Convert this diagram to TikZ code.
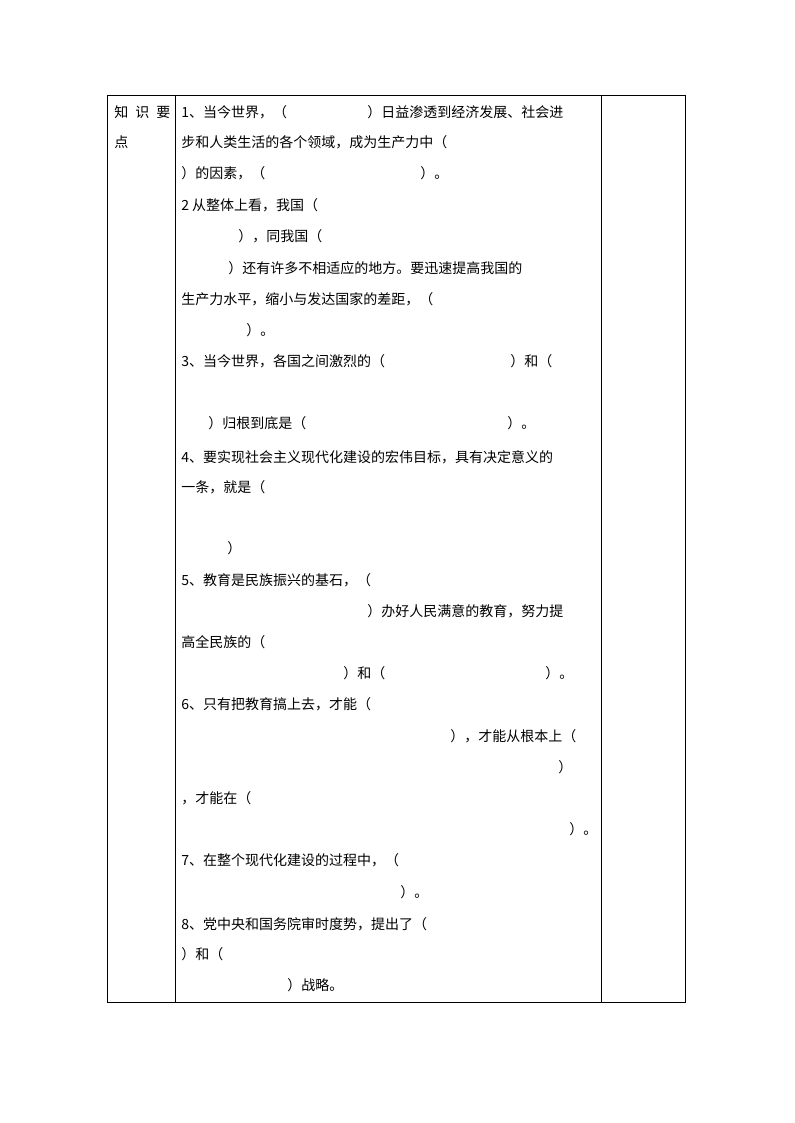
\documentclass[tikz,border=0pt]{standalone}
\usepackage{fontspec}
\newfontfamily\cjk{Noto Sans CJK SC}
\begin{document}
\begin{tikzpicture}[x=0.75pt,y=-0.75pt,
  t/.style={anchor=base west,inner sep=0pt,font=\cjk\fontsize{10.5pt}{12pt}\selectfont},
  rule/.style={line width=0.75pt,black}]
\useasboundingbox (0,0) rectangle (794,1123);
% table
\draw[rule] (107,96) rectangle (685,1002);
\draw[rule] (175,96) -- (175,1002);
\draw[rule] (601,96) -- (601,1002);
% left column
\node[t] (h1) at (114,118) {知\hspace{0.5em}识\hspace{0.5em}要};
\node[t] (h2) at (114,148) {点};
% content
\node[t] (a1) at (181,118) {1、当今世界，（};
\node[t] (a2) at (367,118) {）日益渗透到经济发展、社会进};
\node[t] (a3) at (181,148) {步和人类生活的各个领域，成为生产力中（};
\node[t] (a4) at (181,179) {）的因素，（};
\node[t] (a5) at (420,179) {）。};
\node[t] (b1) at (181,211) {2 从整体上看，我国（};
\node[t] (b2) at (238,242) {），同我国（};
\node[t] (b3) at (228,273) {）还有许多不相适应的地方。要迅速提高我国的};
\node[t] (b4) at (181,304) {生产力水平，缩小与发达国家的差距，（};
\node[t] (b5) at (246,335) {）。};
\node[t] (c1) at (181,366) {3、当今世界，各国之间激烈的（};
\node[t] (c2) at (510,366) {）和（};
\node[t] (c3) at (208,428) {）归根到底是（};
\node[t] (c4) at (507,428) {）。};
\node[t] (d1) at (181,462) {4、要实现社会主义现代化建设的宏伟目标，具有决定意义的};
\node[t] (d2) at (181,492) {一条，就是（};
\node[t] (d3) at (227,553) {）};
\node[t] (e1) at (181,585) {5、教育是民族振兴的基石，（};
\node[t] (e2) at (367,616) {）办好人民满意的教育，努力提};
\node[t] (e3) at (181,647) {高全民族的（};
\node[t] (e4) at (343,678) {）和（};
\node[t] (e5) at (545,678) {）。};
\node[t] (f1) at (181,709) {6、只有把教育搞上去，才能（};
\node[t] (f2) at (450,741) {），才能从根本上（};
\node[t] (f3) at (558,772) {）};
\node[t] (f4) at (181,803) {，才能在（};
\node[t] (f5) at (569,834) {）。};
\node[t] (g1) at (181,865) {7、在整个现代化建设的过程中，（};
\node[t] (g2) at (400,897) {）。};
\node[t] (k1) at (181,929) {8、党中央和国务院审时度势，提出了（};
\node[t] (k2) at (181,959) {）和（};
\node[t] (k3) at (287,990) {）战略。};
\end{tikzpicture}
\end{document}
